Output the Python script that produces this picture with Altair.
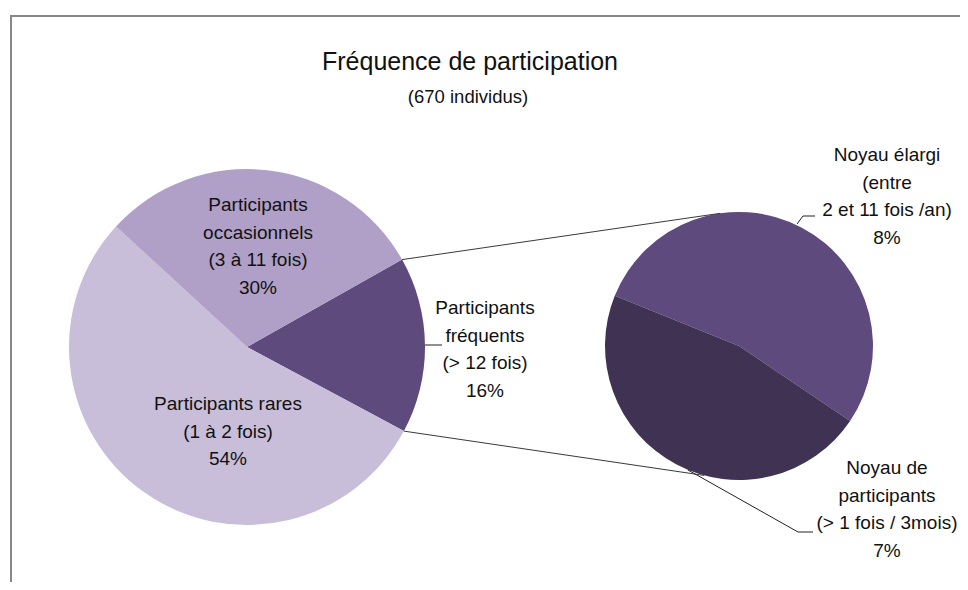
import math
import altair as alt
import pandas as pd

# ---------------- data ----------------
title_text = "Fréquence de participation"
subtitle_text = "(670 individus)"

main_categories = ["Participants fréquents", "Participants rares", "Participants occasionnels"]
main_labels = ["Participants\nfréquents\n(> 12 fois)",
               "Participants  rares\n(1 à 2 fois)",
               "Participants\noccasionnels\n(3 à 11 fois)"]
main_values = [16, 54, 30]
main_colors = ["#5E4A7C", "#C9BEDA", "#B0A0C8"]

sub_categories = ["Noyau élargi", "Noyau de participants"]
sub_labels = ["Noyau élargi\n(entre\n2 et 11 fois /an)",
              "Noyau de\nparticipants\n(> 1 fois / 3mois)"]
sub_values = [8, 7]
sub_colors = ["#5E4A7C", "#403252"]

# ---------------- layout ----------------
OFF = 8
W, H = 968 - 2 * OFF, 590 - 2 * OFF


def px(v):
    return v - OFF


MAIN_C = (247, 347)
MAIN_R = 178
MAIN_START = 60.6  # degrees, clockwise from 12 o'clock
SUB_C = (739, 346)
SUB_R = 134
SUB_START = 292.0

FONT = "Liberation Sans"
TXT = "#111111"


def polar(c, r, deg):
    a = math.radians(deg)
    return (c[0] + r * math.sin(a), c[1] - r * math.cos(a))


def pie_layer(cats, vals, cols, center, radius, start_deg):
    df = pd.DataFrame({"cat": cats, "value": vals, "color": cols, "order": list(range(len(cats)))})
    a0 = math.radians(start_deg)
    return alt.Chart(df).mark_arc(radius=radius).encode(
        theta=alt.Theta("value:Q", stack=True, scale=alt.Scale(range=[a0, a0 + 2 * math.pi])),
        order=alt.Order("order:Q"),
        color=alt.Color("color:N", scale=None),
        x=alt.value(px(center[0])),
        y=alt.value(px(center[1])),
    )


main_pie = pie_layer(main_categories, main_values, main_colors, MAIN_C, MAIN_R, MAIN_START)
sub_pie = pie_layer(sub_categories, sub_values, sub_colors, SUB_C, SUB_R, SUB_START)

# connectors: from the boundaries of the "fréquents" slice to the second pie
freq_span = main_values[0] / sum(main_values) * 360
p_top = polar(MAIN_C, MAIN_R, MAIN_START)
p_bot = polar(MAIN_C, MAIN_R, MAIN_START + freq_span)
q_top = polar(SUB_C, SUB_R, -8)
q_bot = polar(SUB_C, SUB_R, 195)

connectors = pd.DataFrame({
    "x": [px(p_top[0]), px(p_bot[0])],
    "y": [px(p_top[1]), px(p_bot[1])],
    "x2": [px(q_top[0]), px(q_bot[0])],
    "y2": [px(q_top[1]), px(q_bot[1])],
})

leaders = pd.DataFrame({
    "x": [px(425), px(797), px(803), px(688), px(798)],
    "y": [px(345), px(224), px(216), px(470), px(532)],
    "x2": [px(442), px(803), px(815), px(798), px(813)],
    "y2": [px(345), px(216), px(216), px(532), px(532)],
})


def seg_layer(df, color):
    return alt.Chart(df).mark_rule(color=color, strokeWidth=1).encode(
        x=alt.X("x:Q", scale=None, axis=None),
        y=alt.Y("y:Q", scale=None, axis=None),
        x2="x2:Q",
        y2="y2:Q",
    )


conn_layer = seg_layer(connectors, "#3a3a3a")
lead_layer = seg_layer(leaders, "#222222")

# labels: (x centre, y of first line)
label_pos = {
    "Participants fréquents": (485, 308),
    "Participants rares": (228, 404),
    "Participants occasionnels": (258, 205),
    "Noyau élargi": (887, 155),
    "Noyau de participants": (887, 468),
}
lab_rows = []
for cats, labs, vals in [(main_categories, main_labels, main_values), (sub_categories, sub_labels, sub_values)]:
    for c, l, v in zip(cats, labs, vals):
        x, y = label_pos[c]
        lab_rows.append({"x": px(x), "y": px(y), "text": f"{l}\n{v}%"})
labels_df = pd.DataFrame(lab_rows)

label_layer = alt.Chart(labels_df).mark_text(
    font=FONT, fontSize=19, color=TXT, align="center", baseline="middle",
    lineBreak="\n", lineHeight=27.7,
).encode(
    x=alt.X("x:Q", scale=None, axis=None),
    y=alt.Y("y:Q", scale=None, axis=None),
    text="text:N",
)

titles_df = pd.DataFrame({
    "x": [px(470), px(468)],
    "y": [px(62), px(97)],
    "text": [title_text, subtitle_text],
    "size": [25, 18.5],
})
title_layer = alt.Chart(titles_df).mark_text(
    font=FONT, color=TXT, align="center", baseline="middle",
).encode(
    x=alt.X("x:Q", scale=None, axis=None),
    y=alt.Y("y:Q", scale=None, axis=None),
    text="text:N",
    size=alt.Size("size:Q", scale=None, legend=None),
)

frame = alt.Chart(pd.DataFrame({"k": [0]})).mark_rect(
    fillOpacity=0, stroke="#888888", strokeWidth=2
).encode(
    x=alt.value(px(11)), y=alt.value(px(16)),
    x2=alt.value(W + 30), y2=alt.value(H + 30),
)

chart = alt.layer(
    frame, main_pie, sub_pie, conn_layer, lead_layer, label_layer, title_layer
).resolve_scale(
    theta="independent"
).properties(
    width=W, height=H, padding=0, autosize="none",
).configure_view(stroke=None)

chart.save("out.html", embed_options={"renderer": "svg", "actions": False})
